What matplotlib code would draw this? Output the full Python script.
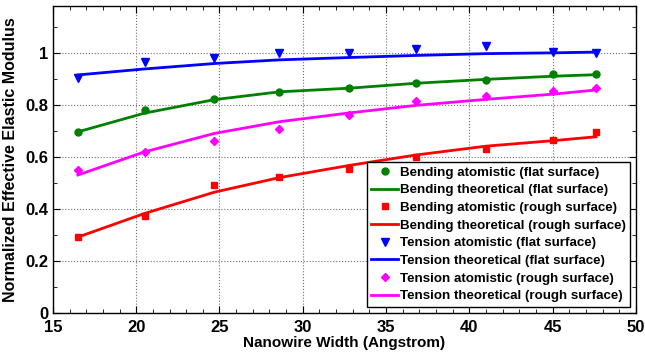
import numpy as np
import matplotlib
matplotlib.use("Agg")
import matplotlib.pyplot as plt
from matplotlib.ticker import MultipleLocator

plt.rcParams["font.family"] = ["Liberation Sans", "DejaVu Sans"]
plt.rcParams["font.weight"] = "bold"

# nanowire widths (Angstrom)
width = [16.5, 20.5, 24.7, 28.6, 32.8, 36.8, 41.0, 45.0, 47.6]

# bending, flat surface
bend_flat_atom = [0.696, 0.780, 0.821, 0.849, 0.864, 0.885, 0.895, 0.918, 0.918]
bend_flat_theo = [0.696, 0.768, 0.820, 0.850, 0.864, 0.883, 0.898, 0.910, 0.916]
# bending, rough surface
bend_rough_atom = [0.291, 0.373, 0.490, 0.522, 0.554, 0.600, 0.631, 0.664, 0.696]
bend_rough_theo = [0.291, 0.382, 0.464, 0.520, 0.567, 0.607, 0.641, 0.662, 0.677]
# tension, flat surface
tens_flat_atom = [0.903, 0.964, 0.980, 0.998, 0.998, 1.013, 1.026, 1.003, 0.998]
tens_flat_theo = [0.915, 0.938, 0.959, 0.973, 0.982, 0.990, 0.997, 1.000, 1.003]
# tension, rough surface
tens_rough_atom = [0.549, 0.619, 0.660, 0.708, 0.759, 0.815, 0.833, 0.854, 0.864]
tens_rough_theo = [0.530, 0.619, 0.690, 0.735, 0.769, 0.798, 0.821, 0.841, 0.857]

green = "#008000"
red = "#ff0000"
blue = "#0000ff"
magenta = "#ff00ff"

fig = plt.figure(figsize=(6.45, 3.57), dpi=100)
ax = fig.add_axes([0.082, 0.124, 0.904, 0.859])

ax.plot(width, bend_flat_atom, "o", color=green, ms=5, label="Bending atomistic (flat surface)")
ax.plot(width, bend_flat_theo, "-", color=green, lw=2, label="Bending theoretical (flat surface)")
ax.plot(width, bend_rough_atom, "s", color=red, ms=5, label="Bending atomistic (rough surface)")
ax.plot(width, bend_rough_theo, "-", color=red, lw=2, label="Bending theoretical (rough surface)")
ax.plot(width, tens_flat_atom, "v", color=blue, ms=5.5, label="Tension atomistic (flat surface)")
ax.plot(width, tens_flat_theo, "-", color=blue, lw=2, label="Tension theoretical (flat surface)")
ax.plot(width, tens_rough_atom, "D", color=magenta, ms=4.5, label="Tension atomistic (rough surface)")
ax.plot(width, tens_rough_theo, "-", color=magenta, lw=2, label="Tension theoretical (rough surface)")

ax.set_xlim(15, 50)
ax.set_ylim(0, 1.18)
ax.xaxis.set_major_locator(MultipleLocator(5))
ax.xaxis.set_minor_locator(MultipleLocator(1))
ax.yaxis.set_major_locator(MultipleLocator(0.2))
ax.yaxis.set_minor_locator(MultipleLocator(0.1))
ax.set_yticks([0, 0.2, 0.4, 0.6, 0.8, 1.0])
ax.set_yticklabels(["0", "0.2", "0.4", "0.6", "0.8", "1"])
ax.tick_params(which="both", direction="in", top=True, right=True, labelsize=12)
ax.tick_params(axis="x", pad=5)
ax.tick_params(which="major", length=5)
ax.tick_params(which="minor", length=3)
ax.grid(True, which="major", linestyle=":", color="#707070", lw=0.8)
for s in ax.spines.values():
    s.set_linewidth(1.0)

ax.set_xlabel("Nanowire Width (Angstrom)", fontsize=11, fontweight="bold", labelpad=1)
ax.set_ylabel("Normalized Effective Elastic Modulus", fontsize=11.5, fontweight="bold", labelpad=5)

leg = ax.legend(loc="lower right", fontsize=9.6, frameon=True, fancybox=False,
                edgecolor="black", framealpha=1, handlelength=2.0, handletextpad=0.15,
                labelspacing=0.4, borderpad=0.35, borderaxespad=0.2,
                bbox_to_anchor=(0.995, 0.01))
leg.get_frame().set_linewidth(1.0)

fig.savefig("out.png", dpi=100)
